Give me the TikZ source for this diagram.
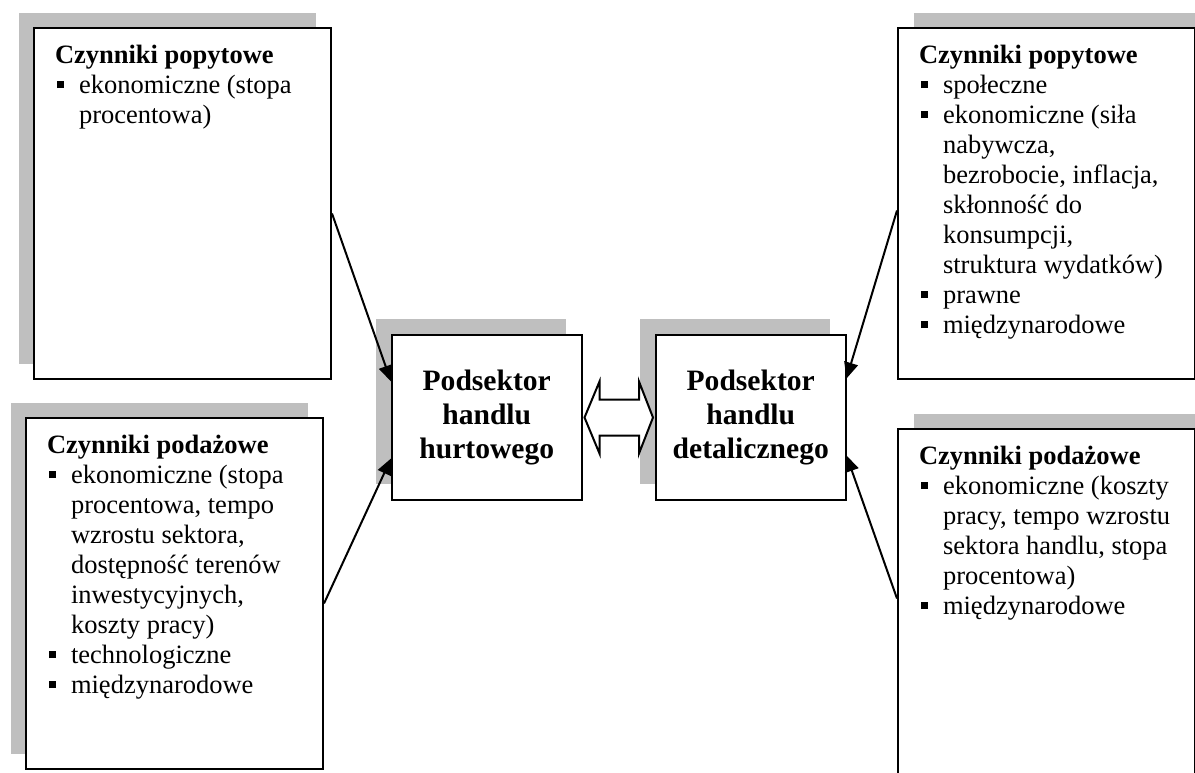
\documentclass[tikz,border=0pt]{standalone}
\usepackage{fontspec}
\setmainfont{Liberation Serif}
\usetikzlibrary{calc,shadows,arrows.meta}

\newcommand\punkt{\par\hangindent=12pt\hangafter=1\noindent
  \hspace*{1pt}\makebox[11pt][l]{\raisebox{2.5pt}{\rule{3.3pt}{3.3pt}}}}

\begin{document}
\begin{tikzpicture}[x=0.5pt, y=-0.5pt,
  czynnik/.style = {draw, line width=1pt, fill=white, anchor=north west,
    inner sep=0pt, minimum width=148.5pt, minimum height=175.5pt,
    font=\fontsize{13.25}{15}\selectfont},
  sektor/.style = {draw, line width=1pt, fill=white, anchor=north west,
    inner sep=0pt, minimum width=94.75pt, minimum height=82.5pt,
    align=center, font=\fontsize{14.8}{17}\selectfont\bfseries,
    general shadow={fill=gray!50, shadow xshift=-8pt, shadow yshift=8pt}},
  cien lewy/.style = {general shadow={fill=gray!50,
    shadow xshift=-7.5pt, shadow yshift=7.5pt}},
  cien prawy/.style = {general shadow={fill=gray!50,
    shadow xshift=8pt, shadow yshift=7.5pt}},
  strzalka/.style = {line width=1pt, -{Triangle[length=8pt,width=7pt]}}]
  \useasboundingbox (0,0) rectangle (1195,772);
  \clip (0,0) rectangle (1195,772);

  % czynniki po lewej
  \node[czynnik, cien lewy] (pop1) at (33,27) {\parbox[t][175.5pt][t]{127.5pt}{%
    \vspace*{7pt}\raggedright
    \strut\textbf{Czynniki popytowe}
    \punkt ekonomiczne (stopa\newline procentowa)}};
  \node[czynnik, cien lewy] (pod1) at (25,417) {\parbox[t][175.5pt][t]{127.5pt}{%
    \vspace*{7pt}\raggedright
    \strut\textbf{Czynniki podażowe}
    \punkt ekonomiczne (stopa\newline procentowa, tempo\newline wzrostu sektora,\newline
      dostępność terenów\newline inwestycyjnych,\newline koszty pracy)
    \punkt technologiczne
    \punkt międzynarodowe}};

  % czynniki po prawej
  \node[czynnik, cien prawy] (pop2) at (897,27) {\parbox[t][175.5pt][t]{127.5pt}{%
    \vspace*{7pt}\raggedright
    \strut\textbf{Czynniki popytowe}
    \punkt społeczne
    \punkt ekonomiczne (siła\newline nabywcza,\newline bezrobocie, inflacja,\newline
      skłonność do\newline konsumpcji,\newline struktura wydatków)
    \punkt prawne
    \punkt międzynarodowe}};
  \node[czynnik, cien prawy] (pod2) at (897,428) {\parbox[t][175.5pt][t]{127.5pt}{%
    \vspace*{7pt}\raggedright
    \strut\textbf{Czynniki podażowe}
    \punkt ekonomiczne (koszty\newline pracy, tempo wzrostu\newline
      sektora handlu, stopa\newline procentowa)
    \punkt międzynarodowe}};

  % podsektory
  \node[sektor] (hurt) at (391,334) {Podsektor\\handlu\\hurtowego};
  \node[sektor] (detal) at (655,334) {Podsektor\\handlu\\detalicznego};

  % strzalka podwojna
  \coordinate (lp) at ($(hurt.east)+(2,0)$);
  \coordinate (pp) at ($(detal.west)+(-2,0)$);
  \draw[line width=1pt, fill=white] (lp) -- ++(15,-36) -- ++(0,18)
    -- ($(pp)+(-14,-18)$) -- ++(0,-18) -- (pp) -- ++(-14,36) -- ++(0,-18)
    -- ($(lp)+(15,18)$) -- ++(0,18) -- cycle;

  \draw[strzalka] ($(pop1.east)+(0,10)$) -- ($(hurt.west)+(0,-36)$);
  \draw[strzalka] ($(pod1.east)+(0,10)$) -- ($(hurt.west)+(0,41)$);
  \draw[strzalka] ($(pop2.west)+(0,7)$) -- ($(detal.east)+(0,-39)$);
  \draw[strzalka] ($(pod2.west)+(0,-6)$) -- ($(detal.east)+(0,38)$);
\end{tikzpicture}
\end{document}
